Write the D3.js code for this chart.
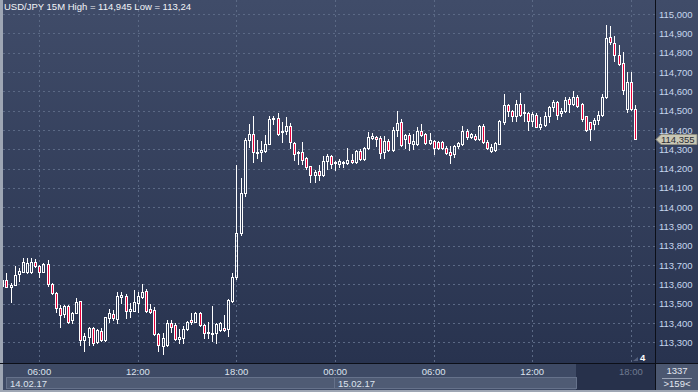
<!DOCTYPE html>
<html>
<head>
<meta charset="utf-8">
<script src="https://cdn.jsdelivr.net/npm/d3@7/dist/d3.min.js"></script>
<style>
body{margin:0;background:#2e3955;}
svg{display:block;font-family:"Liberation Sans",Arial,sans-serif;}
</style>
</head>
<body>
<div id="container"></div>
<script>
var width = 698;
var height = 392;
var plotLeft = 3;
var plotRight = 655;
var plotBottom = 363;

// 15M candles, 14.02.17 03:45 -> 15.02.17 18:15
var opens = [113.592,113.623,113.585,113.597,113.654,113.666,113.666,113.664,113.714,113.697,
113.666,113.706,113.600,113.555,113.476,113.445,113.488,113.416,113.450,113.514,
113.312,113.329,113.372,113.300,113.359,113.312,113.428,113.447,113.422,113.536,
113.540,113.462,113.464,113.502,113.536,113.567,113.471,113.467,113.341,113.281,
113.286,113.398,113.390,113.319,113.321,113.369,113.416,113.407,113.454,113.390,
113.346,113.350,113.350,113.364,113.372,113.367,113.516,113.636,113.866,114.073,
114.346,114.381,114.288,114.286,114.289,114.329,114.457,114.462,114.389,114.393,
114.422,114.332,114.281,114.288,114.255,114.212,114.165,114.189,114.168,114.241,
114.267,114.229,114.225,114.232,114.229,114.246,114.234,114.293,114.251,114.305,
114.358,114.362,114.358,114.286,114.341,114.294,114.402,114.439,114.352,114.373,
114.326,114.326,114.396,114.378,114.335,114.342,114.339,114.339,114.309,114.287,
114.274,114.318,114.326,114.396,114.366,114.370,114.352,114.422,114.339,114.292,
114.295,114.330,114.442,114.529,114.500,114.470,114.534,114.486,114.488,114.448,
114.479,114.418,114.427,114.470,114.517,114.546,114.486,114.500,114.560,114.534,
114.572,114.534,114.470,114.439,114.430,114.453,114.477,114.571,114.883,114.853,
114.791,114.749,114.511,114.649,114.511];
var highs = [113.630,113.657,113.606,113.697,113.683,113.735,113.735,113.738,113.730,113.700,
113.713,113.726,113.606,113.559,113.493,113.492,113.493,113.459,113.530,113.516,
113.346,113.381,113.378,113.367,113.376,113.433,113.471,113.467,113.559,113.559,
113.550,113.502,113.571,113.562,113.602,113.574,113.498,113.485,113.346,113.350,
113.416,113.416,113.398,113.369,113.385,113.412,113.450,113.455,113.459,113.395,
113.407,113.488,113.398,113.405,113.439,113.523,113.657,114.220,114.151,114.360,
114.433,114.474,114.350,114.345,114.376,114.474,114.474,114.488,114.440,114.467,
114.436,114.336,114.289,114.338,114.258,114.215,114.193,114.218,114.263,114.277,
114.270,114.241,114.250,114.237,114.307,114.275,114.298,114.303,114.310,114.388,
114.384,114.367,114.367,114.370,114.353,114.415,114.500,114.456,114.378,114.387,
114.378,114.413,114.430,114.387,114.387,114.347,114.344,114.344,114.318,114.318,
114.323,114.339,114.422,114.404,114.387,114.378,114.427,114.430,114.347,114.326,
114.339,114.453,114.586,114.534,114.505,114.557,114.591,114.534,114.494,114.491,
114.486,114.465,114.491,114.526,114.557,114.552,114.512,114.569,114.569,114.600,
114.581,114.539,114.474,114.444,114.460,114.500,114.586,114.945,114.940,114.888,
114.839,114.805,114.701,114.701,114.531];
var lows = [113.580,113.585,113.511,113.597,113.619,113.666,113.657,113.661,113.692,113.640,
113.664,113.592,113.549,113.455,113.378,113.433,113.402,113.402,113.450,113.286,
113.257,113.286,113.286,113.295,113.309,113.309,113.407,113.416,113.402,113.502,
113.424,113.433,113.462,113.459,113.528,113.457,113.450,113.338,113.255,113.240,
113.281,113.355,113.312,113.295,113.295,113.364,113.395,113.404,113.386,113.321,
113.324,113.307,113.298,113.359,113.359,113.333,113.511,113.628,113.858,114.060,
114.312,114.232,114.255,114.237,114.286,114.329,114.431,114.376,114.336,114.379,
114.307,114.246,114.224,114.225,114.198,114.129,114.129,114.142,114.163,114.198,
114.203,114.194,114.208,114.206,114.225,114.229,114.229,114.243,114.246,114.301,
114.353,114.315,114.255,114.255,114.289,114.289,114.367,114.318,114.309,114.297,
114.300,114.321,114.370,114.326,114.330,114.274,114.300,114.300,114.274,114.231,
114.262,114.309,114.321,114.352,114.358,114.347,114.347,114.335,114.300,114.287,
114.292,114.326,114.430,114.474,114.448,114.448,114.474,114.448,114.401,114.422,
114.413,114.404,114.422,114.442,114.500,114.456,114.474,114.494,114.494,114.529,
114.520,114.448,114.396,114.349,114.404,114.430,114.474,114.565,114.848,114.756,
114.736,114.589,114.493,114.502,114.352];
var closes = [113.623,113.585,113.597,113.649,113.671,113.718,113.713,113.716,113.695,113.666,
113.706,113.600,113.554,113.476,113.440,113.488,113.407,113.454,113.511,113.312,
113.333,113.376,113.298,113.364,113.312,113.429,113.454,113.424,113.540,113.545,
113.464,113.471,113.511,113.540,113.562,113.462,113.457,113.341,113.286,113.324,
113.398,113.381,113.316,113.326,113.369,113.407,113.404,113.450,113.390,113.346,
113.352,113.346,113.395,113.402,113.364,113.519,113.637,113.866,114.073,114.346,
114.381,114.286,114.286,114.298,114.329,114.457,114.464,114.381,114.396,114.422,
114.336,114.275,114.284,114.246,114.208,114.167,114.182,114.165,114.241,114.267,
114.224,114.234,114.241,114.228,114.246,114.234,114.293,114.250,114.307,114.364,
114.367,114.353,114.281,114.341,114.294,114.402,114.436,114.323,114.373,114.335,
114.344,114.396,114.375,114.332,114.347,114.306,114.306,114.309,114.280,114.273,
114.318,114.335,114.396,114.366,114.378,114.352,114.422,114.339,114.309,114.313,
114.332,114.448,114.529,114.496,114.470,114.534,114.479,114.491,114.448,114.482,
114.418,114.430,114.470,114.517,114.546,114.479,114.500,114.557,114.534,114.572,
114.526,114.456,114.401,114.404,114.453,114.479,114.569,114.878,114.857,114.788,
114.744,114.606,114.649,114.511,114.355];

var timeTickIndex = [9, 33, 57, 81, 105, 129, 153];
var timeTickLabels = ['06:00', '12:00', '18:00', '00:00', '06:00', '12:00', '18:00'];
var dayStartIndex = [-1, 81];
var dayLabels = ['14.02.17', '15.02.17'];
var priceTicks = [113.3,113.4,113.5,113.6,113.7,113.8,113.9,114.0,114.1,114.2,114.3,114.4,114.5,114.6,114.7,114.8,114.9,115.0];
var lastPrice = 114.355;
var title = 'USD/JPY 15M High = 114,945 Low = 113,24';

function fmt(v){
    return v.toFixed(3).replace('.', ',');
}

var x = d3.scaleLinear().domain([0, 154]).range([2.33, 634.96]);
var y = d3.scaleLinear().domain([113.3, 115.0]).range([342.3, 14.2]);

var svg = d3.select('#container').append('svg')
    .attr('width', width).attr('height', height);

var defs = svg.append('defs');
var grad = defs.append('linearGradient').attr('id', 'bg').attr('x1', 0).attr('y1', 0).attr('x2', 0).attr('y2', 1);
grad.append('stop').attr('offset', '0%').attr('stop-color', '#404c69');
grad.append('stop').attr('offset', '100%').attr('stop-color', '#28334f');
defs.append('clipPath').attr('id', 'plotClip').append('rect')
    .attr('x', plotLeft).attr('y', 0).attr('width', plotRight - plotLeft).attr('height', plotBottom);

// panels
svg.append('rect').attr('x', 0).attr('y', 0).attr('width', width).attr('height', height).attr('fill', '#9ea6b4');
svg.append('rect').attr('x', plotLeft).attr('y', 0).attr('width', plotRight - plotLeft).attr('height', plotBottom).attr('fill', 'url(#bg)');
svg.append('rect').attr('x', plotRight + 1).attr('y', 0).attr('width', width - plotRight - 1).attr('height', plotBottom).attr('fill', 'url(#bg)');
svg.append('rect').attr('x', plotLeft).attr('y', plotBottom + 1).attr('width', plotRight - plotLeft).attr('height', 26).attr('fill', '#3e4a65');
svg.append('rect').attr('x', plotRight + 1).attr('y', plotBottom + 1).attr('width', width - plotRight - 1).attr('height', 26).attr('fill', '#4b5770');
// shaded region behind the last time tick
svg.append('rect').attr('x', 576).attr('y', plotBottom + 1).attr('width', plotRight - 576).attr('height', 26).attr('fill', '#27314b');

// grid
var grid = svg.append('g').attr('clip-path', 'url(#plotClip)');
grid.selectAll('.hgrid').data(priceTicks).enter().append('line')
    .attr('x1', plotLeft).attr('x2', plotRight)
    .attr('y1', function(d){ return Math.round(y(d)) + 0.5; })
    .attr('y2', function(d){ return Math.round(y(d)) + 0.5; })
    .attr('stroke', '#5b6985').attr('stroke-dasharray', '2,3');
grid.selectAll('.vgrid').data(timeTickIndex).enter().append('line')
    .attr('x1', function(d){ return Math.round(x(d)) + 0.5; })
    .attr('x2', function(d){ return Math.round(x(d)) + 0.5; })
    .attr('y1', 0).attr('y2', plotBottom)
    .attr('stroke', '#5b6985').attr('stroke-dasharray', '2,3');

// candles
var candles = d3.range(opens.length).map(function(i){
    return {i: i, o: opens[i], h: highs[i], l: lows[i], c: closes[i]};
});
var cg = grid.selectAll('.candle').data(candles).enter().append('g');
cg.each(function(d){
    var g = d3.select(this);
    var left = Math.round(x(d.i)) - 1;
    var top = Math.round(y(Math.max(d.o, d.c)));
    var bot = Math.round(y(Math.min(d.o, d.c)));
    if (bot - top < 1) bot = top + 1;
    var wx = left + 1.5;
    g.append('line').attr('x1', wx).attr('x2', wx)
        .attr('y1', Math.round(y(d.h))).attr('y2', top)
        .attr('stroke', '#ffffff');
    g.append('line').attr('x1', wx).attr('x2', wx)
        .attr('y1', bot).attr('y2', Math.round(y(d.l)) + 1)
        .attr('stroke', '#ffffff');
    g.append('rect').attr('x', left + 0.5).attr('y', top + 0.5)
        .attr('width', 2).attr('height', bot - top)
        .attr('fill', d.c < d.o ? '#e8003a' : 'none')
        .attr('stroke', '#ffffff');
});

// frame lines
svg.append('line').attr('x1', 0).attr('x2', width).attr('y1', plotBottom + 0.5).attr('y2', plotBottom + 0.5).attr('stroke', '#0c0f18');
svg.append('line').attr('x1', plotRight + 0.5).attr('x2', plotRight + 0.5).attr('y1', 0).attr('y2', height - 2).attr('stroke', '#0c0f18');

// price axis labels
svg.selectAll('.ylab').data(priceTicks).enter().append('text')
    .attr('x', 659).attr('y', function(d){ return y(d) + 3.5; })
    .attr('font-size', 9.5).attr('fill', '#c6d6ee')
    .text(function(d){ return fmt(d); });

// current price tag
var py = Math.round(y(lastPrice));
svg.append('path')
    .attr('d', 'M656,' + (py + 0.5) + ' L661,' + (py - 4.5) + ' L697,' + (py - 4.5) + ' L697,' + (py + 5.5) + ' L661,' + (py + 5.5) + ' Z')
    .attr('fill', '#c9c7b6').attr('stroke', '#8d8c80');
svg.append('text').attr('x', 661).attr('y', py + 4).attr('font-size', 9.5).attr('fill', '#2a2c33').text(fmt(lastPrice));

// time axis
svg.selectAll('.xlab').data(timeTickIndex).enter().append('text')
    .attr('x', function(d){ return x(d); }).attr('y', 375)
    .attr('text-anchor', 'middle').attr('font-size', 9.5)
    .attr('fill', function(d, i){ return i === timeTickIndex.length - 1 ? '#6f7a90' : '#dde3ee'; })
    .text(function(d, i){ return timeTickLabels[i]; });

// day boxes
dayStartIndex.forEach(function(s, k){
    var x0 = k === 0 ? 6 : Math.round(x(s)) - 1;
    var x1 = k + 1 < dayStartIndex.length ? Math.round(x(dayStartIndex[k + 1])) - 1 : 576;
    svg.append('rect').attr('x', x0 + 0.5).attr('y', 377.5).attr('width', x1 - x0).attr('height', 11)
        .attr('fill', '#4f5b74').attr('stroke', '#66728b');
    svg.append('text').attr('x', x0 + 4).attr('y', 386.5).attr('font-size', 9.5).attr('fill', '#dde3ee').text(dayLabels[k]);
});

// corner counter
svg.append('text').attr('x', 677).attr('y', 374).attr('text-anchor', 'middle').attr('font-size', 9.5).attr('fill', '#e4e8f0').text('1337');
svg.append('line').attr('x1', 662).attr('x2', 692).attr('y1', 378.5).attr('y2', 378.5).attr('stroke', '#9aa4b6');
svg.append('text').attr('x', 677).attr('y', 387).attr('text-anchor', 'middle').attr('font-size', 9.5).attr('fill', '#e4e8f0').text('>159<');

// small marker near the bottom right of the plot
svg.append('path').attr('d', 'M633,361 L638,357 L638,361 Z').attr('fill', '#55607a');
svg.append('text').attr('x', 640).attr('y', 361).attr('font-size', 9.5).attr('font-weight', 'bold').attr('fill', '#ffffff').text('4');

// title
svg.append('text').attr('x', 4).attr('y', 10).attr('font-size', 9.5).attr('fill', '#f2f4f8').text(title);
</script>
</body>
</html>
